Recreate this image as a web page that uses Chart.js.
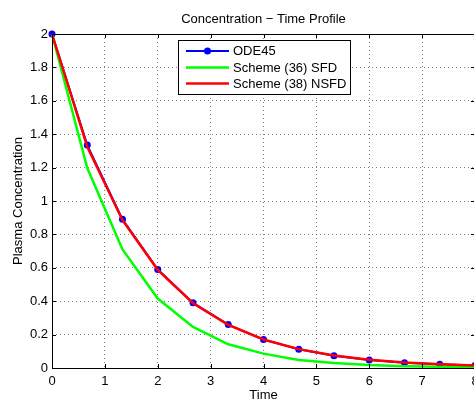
<!DOCTYPE html>
<html>
<head>
<meta charset="utf-8">
<script src="https://cdn.jsdelivr.net/npm/chart.js@4/dist/chart.umd.min.js"></script>
<style>
  html, body { margin: 0; padding: 0; background: #fff; overflow: hidden; }
  #wrap { width: 480px; height: 400px; }
</style>
</head>
<body>
<div id="wrap"><canvas id="profileChart" width="480" height="400"></canvas></div>
<script>
// Time samples and the three solutions
const timeValues = [0, 0.667, 1.333, 2, 2.667, 3.333, 4, 4.667, 5.333, 6, 6.667, 7.333, 8];
const ode45Values = [2, 1.335, 0.89, 0.59, 0.39, 0.26, 0.17, 0.112, 0.074, 0.048, 0.032, 0.022, 0.015];
const sfdValues = [2, 1.197, 0.71, 0.416, 0.246, 0.142, 0.086, 0.048, 0.03, 0.018, 0.011, 0.007, 0.004];
const nsfdValues = [2, 1.325, 0.885, 0.588, 0.388, 0.258, 0.171, 0.113, 0.075, 0.049, 0.033, 0.022, 0.015];

const xTicks = [0, 1, 2, 3, 4, 5, 6, 7, 8];
const yTicks = [0, 0.2, 0.4, 0.6, 0.8, 1, 1.2, 1.4, 1.6, 1.8, 2];

const seriesNames = ['ODE45', 'Scheme (36) SFD', 'Scheme (38) NSFD'];
const seriesColors = ['#0000ff', '#00ff00', '#ff0000'];

const FONT = '"Liberation Sans", Arial, Helvetica, sans-serif';

function toPoints(values) {
    return values.map((v, i) => ({ x: timeValues[i], y: v }));
}

// Title, axis labels, box, inward ticks and the in-plot legend (MATLAB look)
const matlabDecor = {
    id: 'matlabDecor',
    afterDraw(chart) {
        const ctx = chart.ctx;
        const area = chart.chartArea;
        const xs = chart.scales.x;
        const ys = chart.scales.y;
        ctx.save();

        // box
        ctx.strokeStyle = '#000';
        ctx.lineWidth = 1;
        ctx.strokeRect(Math.round(area.left) + 0.5, Math.round(area.top) + 0.5,
            Math.round(area.right - area.left), Math.round(area.bottom - area.top));

        // inward ticks
        ctx.beginPath();
        xTicks.forEach(t => {
            const px = Math.round(xs.getPixelForValue(t)) + 0.5;
            ctx.moveTo(px, area.bottom); ctx.lineTo(px, area.bottom - 4);
            ctx.moveTo(px, area.top); ctx.lineTo(px, area.top + 4);
        });
        yTicks.forEach(t => {
            const py = Math.round(ys.getPixelForValue(t)) + 0.5;
            ctx.moveTo(area.left, py); ctx.lineTo(area.left + 4, py);
            ctx.moveTo(area.right, py); ctx.lineTo(area.right - 4, py);
        });
        ctx.stroke();

        // texts
        ctx.fillStyle = '#000';
        ctx.font = '13px ' + FONT;
        ctx.textAlign = 'center';
        ctx.textBaseline = 'middle';
        ctx.fillText('Concentration \u2212 Time Profile', (area.left + area.right) / 2, 19);
        ctx.textBaseline = 'alphabetic';
        ctx.fillText('Time', (area.left + area.right) / 2, 399);
        ctx.save();
        ctx.translate(21.5, (area.top + area.bottom) / 2);
        ctx.rotate(-Math.PI / 2);
        ctx.fillText('Plasma Concentration', 0, 0);
        ctx.restore();

        // legend
        const lx = 178.5, ly = 40.5, lw = 172, lh = 54;
        ctx.fillStyle = '#fff';
        ctx.fillRect(lx, ly, lw, lh);
        ctx.strokeStyle = '#000';
        ctx.strokeRect(lx, ly, lw, lh);
        const rows = [51, 67.5, 83.5];
        ctx.textAlign = 'left';
        ctx.textBaseline = 'middle';
        seriesNames.forEach((name, i) => {
            ctx.strokeStyle = seriesColors[i];
            ctx.lineWidth = i === 0 ? 2 : 2.5;
            ctx.beginPath();
            ctx.moveTo(186, rows[i]);
            ctx.lineTo(229, rows[i]);
            ctx.stroke();
            if (i === 0) {
                ctx.fillStyle = seriesColors[0];
                ctx.beginPath();
                ctx.arc(207.5, rows[i], 3.5, 0, Math.PI * 2);
                ctx.fill();
            }
            ctx.fillStyle = '#000';
            ctx.fillText(name, 233, rows[i] + 0.5);
        });

        ctx.restore();
    }
};

const ctx = document.getElementById('profileChart').getContext('2d');
const profileChart = new Chart(ctx, {
    type: 'scatter',
    data: {
        datasets: [
            {
                label: seriesNames[0],
                data: toPoints(ode45Values),
                showLine: true,
                borderColor: seriesColors[0],
                backgroundColor: seriesColors[0],
                borderWidth: 2,
                pointRadius: 3.5,
                pointBorderWidth: 0,
                pointHoverRadius: 3.5,
                clip: false,
                order: 3
            },
            {
                label: seriesNames[1],
                data: toPoints(sfdValues),
                showLine: true,
                borderColor: seriesColors[1],
                backgroundColor: seriesColors[1],
                borderWidth: 2.5,
                pointRadius: 0,
                clip: false,
                order: 2
            },
            {
                label: seriesNames[2],
                data: toPoints(nsfdValues),
                showLine: true,
                borderColor: seriesColors[2],
                backgroundColor: seriesColors[2],
                borderWidth: 2.5,
                pointRadius: 0,
                clip: false,
                order: 1
            }
        ]
    },
    options: {
        responsive: false,
        animation: false,
        events: [],
        layout: { padding: { left: 0, top: 34, right: 5, bottom: 0 } },
        plugins: {
            legend: { display: false },
            tooltip: { enabled: false }
        },
        scales: {
            x: {
                type: 'linear',
                min: 0,
                max: 8,
                afterBuildTicks: scale => { scale.ticks = xTicks.map(v => ({ value: v })); },
                afterFit: scale => {
                    scale.height = 32;
                    scale.paddingLeft = 0;
                    scale.paddingRight = 0;
                },
                grid: { color: 'rgba(0,0,0,0.5)', drawTicks: false, lineWidth: 1 },
                border: { display: false, dash: [1, 3] },
                ticks: {
                    color: '#000',
                    padding: 6,
                    maxRotation: 0,
                    font: { family: FONT, size: 13 },
                    callback: v => String(v)
                }
            },
            y: {
                type: 'linear',
                min: 0,
                max: 2,
                afterBuildTicks: scale => { scale.ticks = yTicks.map(v => ({ value: v })); },
                afterFit: scale => {
                    scale.width = 52;
                    scale.paddingTop = 0;
                    scale.paddingBottom = 0;
                },
                grid: { color: 'rgba(0,0,0,0.5)', drawTicks: false, lineWidth: 1 },
                border: { display: false, dash: [1, 3] },
                ticks: {
                    color: '#000',
                    padding: 4,
                    font: { family: FONT, size: 13 },
                    callback: v => String(v)
                }
            }
        }
    },
    plugins: [matlabDecor]
});
</script>
</body>
</html>
